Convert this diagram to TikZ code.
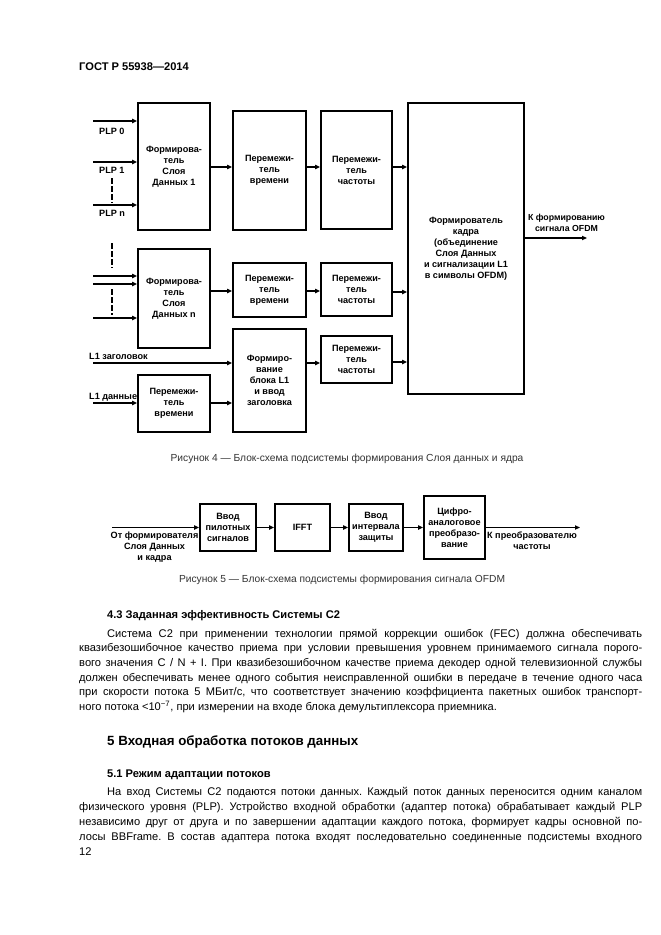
\documentclass[tikz,border=0pt]{standalone}
\usepackage{fontspec}
\setmainfont{Liberation Sans}
\usetikzlibrary{arrows.meta}
\frenchspacing
\tikzset{
 box/.style={draw, line width=1.6pt, inner sep=0pt, align=center, font=\bfseries\fontsize{8.2}{9.9}\selectfont},
 arr/.style={line width=1.1pt, -{Triangle[length=4.5pt,width=3.8pt]}},
 inarr/.style={line width=1.7pt, -{Triangle[length=4.5pt,width=3.8pt]}},
 lab/.style={inner sep=0pt, align=center, font=\bfseries\fontsize{8.2}{9.9}\selectfont},
 dsh/.style={line width=1.1pt, dash pattern=on 5pt off 2.2pt},
 bodytext/.style={inner sep=0pt, anchor=base west, font=\fontsize{10}{12}\selectfont},
 hdtext/.style={inner sep=0pt, anchor=base west, font=\bfseries\fontsize{10}{12}\selectfont},
 figcap/.style={inner sep=0pt, anchor=base, text=black!80, font=\fontsize{9.2}{11}\selectfont},
}
\newcommand\fullln[1]{\hbox to 506.7pt{#1}}
\newcommand\indln[1]{\hbox to 481.5pt{#1}}
\begin{document}
\begin{tikzpicture}[x=0.9pt,y=-0.9pt]
\useasboundingbox[fill=white] (0,0) rectangle (661,935);

% header
\node[hdtext] (hdr) at (79,70) {ГОСТ Р 55938—2014};

% ---------- Figure 4 ----------
\node[box, minimum width=72*0.9pt, minimum height=127*0.9pt] (F1) at (174,166.5) {Формирова-\\тель\\Слоя\\Данных 1};
\node[box, minimum width=73*0.9pt, minimum height=119*0.9pt] (T1) at (269.5,170.5) {Перемежи-\\тель\\времени};
\node[box, minimum width=71*0.9pt, minimum height=118*0.9pt] (Q1) at (356.5,170) {Перемежи-\\тель\\частоты};
\node[box, minimum width=116*0.9pt, minimum height=291*0.9pt] (BIG) at (466,248.5) {Формирователь\\кадра\\(объединение\\Слоя Данных\\и сигнализации L1\\в символы OFDM)};
\node[box, minimum width=72*0.9pt, minimum height=99*0.9pt] (Fn) at (174,298.5) {Формирова-\\тель\\Слоя\\Данных n};
\node[box, minimum width=73*0.9pt, minimum height=54*0.9pt] (T2) at (269.5,290) {Перемежи-\\тель\\времени};
\node[box, minimum width=71*0.9pt, minimum height=53*0.9pt] (Q2) at (356.5,289.5) {Перемежи-\\тель\\частоты};
\node[box, minimum width=73*0.9pt, minimum height=103*0.9pt] (L1B) at (269.5,380.5) {Формиро-\\вание\\блока L1\\и ввод\\заголовка};
\node[box, minimum width=72*0.9pt, minimum height=57*0.9pt] (T3) at (174,403.5) {Перемежи-\\тель\\времени};
\node[box, minimum width=71*0.9pt, minimum height=47*0.9pt] (Q3) at (356.5,359.5) {Перемежи-\\тель\\частоты};

% inputs
\coordinate (p0) at (93,121);
\coordinate (p1) at (93,162);
\coordinate (pn) at (93,205);
\coordinate (r1) at (93,276);
\coordinate (r2) at (93,284);
\coordinate (r3) at (93,318);
\coordinate (hl) at (93,363);
\coordinate (dl) at (93,403);
\draw[inarr] (p0) -- (p0 -| F1.west);
\draw[inarr] (p1) -- (p1 -| F1.west);
\draw[inarr] (pn) -- (pn -| F1.west);
\draw[inarr] (r1) -- (r1 -| Fn.west);
\draw[arr] (r2) -- (r2 -| Fn.west);
\draw[arr] (r3) -- (r3 -| Fn.west);
\draw[arr] (hl) -- (hl -| L1B.west);
\draw[arr] (dl) -- (dl -| T3.west);

\coordinate (d1a) at (112,178); \coordinate (d1b) at (112,203);
\coordinate (d2a) at (112,243); \coordinate (d2b) at (112,268);
\coordinate (d3a) at (112,289); \coordinate (d3b) at (112,315);
\draw[dsh] (d1a) -- (d1b);
\draw[dsh] (d2a) -- (d2b);
\draw[dsh] (d3a) -- (d3b);

\node[lab, anchor=base west] (lp0) at (99,134) {PLP 0};
\node[lab, anchor=base west] (lp1) at (99,173.5) {PLP 1};
\node[lab, anchor=base west] (lpn) at (99,216.5) {PLP n};
\node[lab, anchor=base west] (lhl) at (89,359.5) {L1 заголовок};
\node[lab, anchor=base west] (ldl) at (89,399) {L1 данные};

% internal arrows
\draw[arr] (F1.east |- 0,167) -- (T1.west |- 0,167);
\draw[arr] (T1.east |- 0,167) -- (Q1.west |- 0,167);
\draw[arr] (Q1.east |- 0,167) -- (BIG.west |- 0,167);
\draw[arr] (Fn.east |- 0,291) -- (T2.west |- 0,291);
\draw[arr] (T2.east |- 0,291) -- (Q2.west |- 0,291);
\draw[arr] (Q2.east |- 0,292) -- (BIG.west |- 0,292);
\draw[arr] (T3.east |- 0,403) -- (L1B.west |- 0,403);
\draw[arr] (L1B.east |- 0,363) -- (Q3.west |- 0,363);
\draw[arr] (Q3.east |- 0,362) -- (BIG.west |- 0,362);
\coordinate (out1) at (587,238);
\draw[arr] (BIG.east |- out1) -- (out1);
\node[lab, anchor=north, font=\bfseries\fontsize{7.9}{9.9}\selectfont] (lout) at (566.5,213.5) {К формированию\\сигнала OFDM};

\node[figcap] (cap4) at (347,461.5) {Рисунок 4 — Блок-схема подсистемы формирования Слоя данных и ядра};

% ---------- Figure 5 ----------
\node[box, minimum width=56*0.9pt, minimum height=47*0.9pt] (P) at (228,527.5) {Ввод\\пилотных\\сигналов};
\node[box, minimum width=55*0.9pt, minimum height=47*0.9pt] (I) at (302.5,527.5) {IFFT};
\node[box, minimum width=54*0.9pt, minimum height=47*0.9pt] (G) at (376,527.5) {Ввод\\интервала\\защиты};
\node[box, minimum width=61*0.9pt, minimum height=63*0.9pt] (D) at (454.5,527.5) {Цифро-\\аналоговое\\преобразо-\\вание};
\coordinate (in5) at (112,527.5);
\coordinate (out5) at (580,527.5);
\draw[arr] (in5) -- (P);
\draw[arr] (P) -- (I);
\draw[arr] (I) -- (G);
\draw[arr] (G) -- (D);
\draw[arr] (D) -- (out5);
\node[lab, anchor=north] (lin5) at (154.5,532) {От формирователя\\Слоя Данных\\и кадра};
\node[lab, anchor=north] (lo5) at (532,532) {К преобразователю\\частоты};

\node[figcap] (cap5) at (342,582.5) {Рисунок 5 — Блок-схема подсистемы формирования сигнала OFDM};

% ---------- Text ----------
\node[hdtext] (h43) at (107,618) {4.3 Заданная эффективность Системы С2};
\node[bodytext] (a1) at (107,637) {\indln{Система С2 при применении технологии прямой коррекции ошибок (FEC) должна обеспечивать}};
\node[bodytext] (a2) at (79,651.7) {\fullln{квазибезошибочное качество приема при условии превышения уровнем принимаемого сигнала порого-}};
\node[bodytext] (a3) at (79,666.4) {\fullln{вого значения C / N + I. При квазибезошибочном качестве приема декодер одной телевизионной службы}};
\node[bodytext] (a4) at (79,681.1) {\fullln{должен обеспечивать менее одного события неисправленной ошибки в передаче в течение одного часа}};
\node[bodytext] (a5) at (79,695.8) {\fullln{при скорости потока 5 МБит/с, что соответствует значению коэффициента пакетных ошибок транспорт-}};
\node[bodytext] (a6) at (79,710.5) {ного потока <10\textsuperscript{−7}, при измерении на входе блока демультиплексора приемника.};

\node[hdtext, font=\bfseries\fontsize{12}{14}\selectfont] (h5) at (107,745.5) {5 Входная обработка потоков данных};
\node[hdtext] (h51) at (107,777) {5.1 Режим адаптации потоков};
\node[bodytext] (b1) at (107,795) {\indln{На вход Системы С2 подаются потоки данных. Каждый поток данных переносится одним каналом}};
\node[bodytext] (b2) at (79,810) {\fullln{физического уровня (PLP). Устройство входной обработки (адаптер потока) обрабатывает каждый PLP}};
\node[bodytext] (b3) at (79,825) {\fullln{независимо друг от друга и по завершении адаптации каждого потока, формирует кадры основной по-}};
\node[bodytext] (b4) at (79,840) {\fullln{лосы BBFrame. В состав адаптера потока входят последовательно соединенные подсистемы входного}};
\node[bodytext] (pg) at (79,855) {12};
\end{tikzpicture}
\end{document}
